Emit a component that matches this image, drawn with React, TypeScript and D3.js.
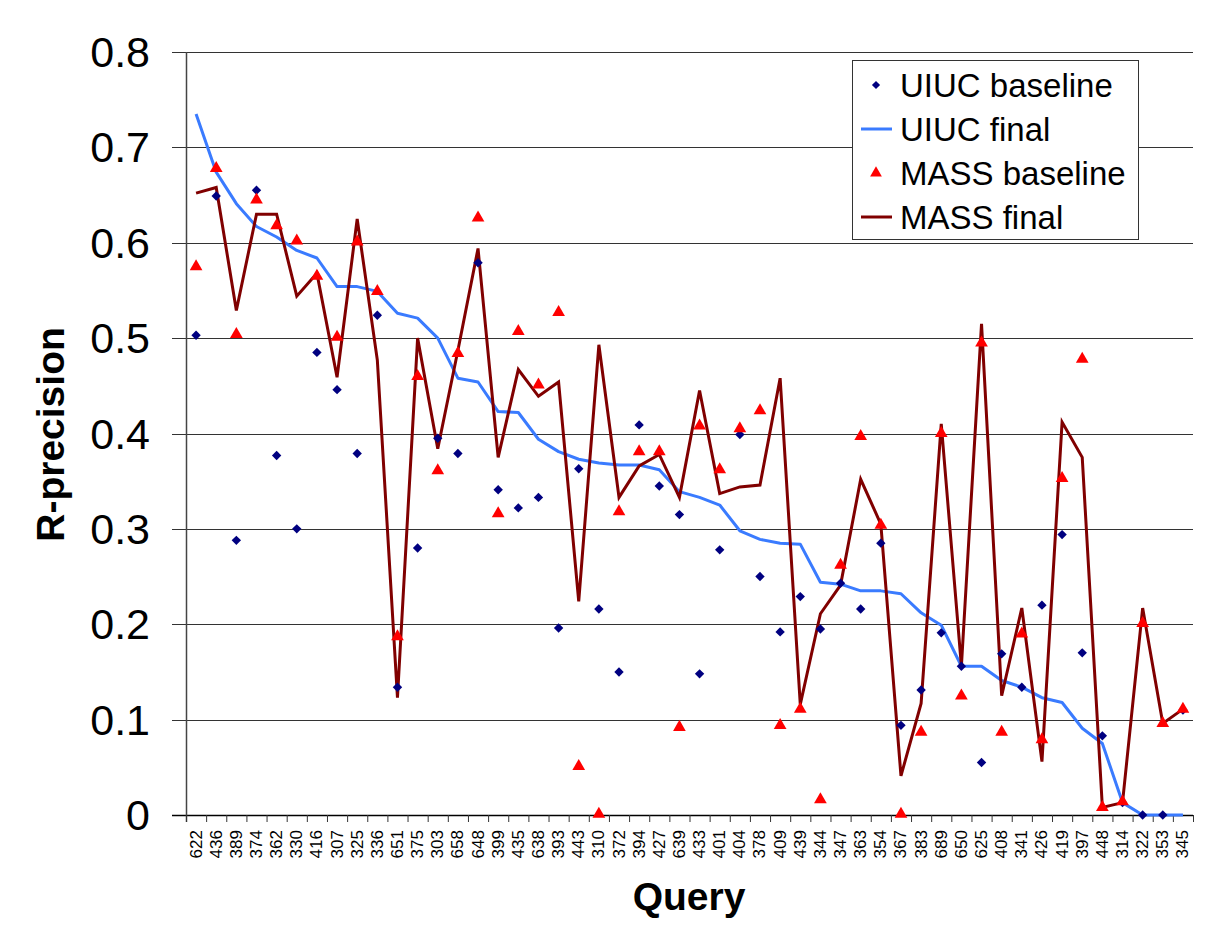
import React from "react";
import * as d3 from "d3";

const queries = ["622","436","389","374","362","330","416","307","325","336","651","375","303","658","648","399","435","638","393","443","310","372","394","427","639","433","401","404","378","409","439","344","347","363","354","367","383","689","650","625","408","341","426","419","397","448","314","322","353","345"];

const uiucBaseline = [0.503,0.649,0.288,0.655,0.377,0.300,0.485,0.446,0.379,0.524,0.134,0.280,0.395,0.379,0.579,0.341,0.322,0.333,0.196,0.363,0.216,0.150,0.409,0.345,0.315,0.148,0.278,0.399,0.250,0.192,0.229,0.195,0.243,0.216,0.285,0.094,0.131,0.191,0.156,0.055,0.169,0.134,0.220,0.294,0.170,0.083,0.013,0.0,0.0,0.110];

const uiucFinal = [0.735,0.674,0.641,0.617,0.606,0.592,0.584,0.554,0.554,0.549,0.526,0.521,0.500,0.458,0.454,0.423,0.422,0.394,0.381,0.373,0.369,0.367,0.367,0.362,0.339,0.333,0.325,0.298,0.289,0.285,0.284,0.244,0.242,0.235,0.235,0.232,0.212,0.199,0.156,0.156,0.141,0.134,0.123,0.118,0.091,0.075,0.013,0.0,0.0,0.0];

const massBaseline = [0.574,0.677,0.503,0.644,0.617,0.601,0.564,0.500,0.600,0.548,0.186,0.459,0.360,0.483,0.625,0.315,0.506,0.450,0.526,0.050,0.0,0.317,0.380,0.380,0.091,0.407,0.361,0.404,0.423,0.093,0.110,0.015,0.261,0.396,0.303,0.0,0.086,0.399,0.124,0.494,0.086,0.189,0.078,0.352,0.477,0.007,0.013,0.200,0.095,0.110];

const massFinal = [0.652,0.658,0.529,0.630,0.630,0.544,0.568,0.459,0.625,0.477,0.123,0.500,0.384,0.487,0.594,0.375,0.467,0.439,0.454,0.224,0.493,0.333,0.366,0.378,0.333,0.445,0.337,0.344,0.346,0.458,0.116,0.211,0.241,0.352,0.305,0.041,0.117,0.410,0.156,0.515,0.125,0.217,0.056,0.412,0.375,0.008,0.013,0.217,0.096,0.111];

const yTicks = [0, 0.1, 0.2, 0.3, 0.4, 0.5, 0.6, 0.7, 0.8];

const legendItems = [
  { label: "UIUC baseline", kind: "diamond" },
  { label: "UIUC final", kind: "blueline" },
  { label: "MASS baseline", kind: "triangle" },
  { label: "MASS final", kind: "redline" },
];

const W = 1225;
const H = 945;
const LEFT = 186;
const RIGHT = 1193;
const TOP = 52;
const BOTTOM = 815;

const NAVY = "#000080";
const BLUE = "#3A7BFF";
const RED = "#FF0000";
const DARKRED = "#800000";
const FONT = "Liberation Sans, Arial, Helvetica, sans-serif";

export default function App() {
  const x = d3.scaleBand<string>().domain(queries).range([LEFT, RIGHT]).padding(0);
  const y = d3.scaleLinear().domain([0, 0.8]).range([BOTTOM, TOP]);
  const cx = (q: string) => (x(q) as number) + x.bandwidth() / 2;

  const line = d3
    .line<number>()
    .x((_, i) => cx(queries[i]))
    .y((d) => y(d));

  const diamond = d3.symbol().type(d3.symbolSquare).size(44)();
  const triangle = d3.symbol().type(d3.symbolTriangle).size(70)();

  const boundaries = queries.map((q) => x(q) as number).concat([RIGHT]);

  const legendX = 852;
  const legendY = 60;
  const legendW = 286;
  const legendH = 179;
  const rowY = [85, 129, 173, 217];

  return (
    <svg
      width={W}
      height={H}
      style={{ position: "absolute", left: 0, top: 0, background: "#fff" }}
      fontFamily={FONT}
    >
      <rect x={0} y={0} width={W} height={H} fill="#fff" />
      {yTicks.map((t) => (
        <line
          key={"g" + t}
          x1={LEFT - 14}
          x2={RIGHT}
          y1={Math.round(y(t)) + 0.5}
          y2={Math.round(y(t)) + 0.5}
          stroke={t === 0 ? "#000" : "#333"}
          strokeWidth={t === 0 ? 1.5 : 1.2}
        />
      ))}
      <line x1={LEFT + 0.5} x2={LEFT + 0.5} y1={TOP} y2={BOTTOM + 7} stroke="#444" strokeWidth={1.5} />
      {boundaries.map((b, i) => (
        <line key={"xt" + i} x1={b + 0.5} x2={b + 0.5} y1={BOTTOM} y2={BOTTOM + 7} stroke="#333" strokeWidth={1} />
      ))}
      {yTicks.map((t) => (
        <text
          key={"yl" + t}
          x={150}
          y={y(t)}
          textAnchor="end"
          dominantBaseline="central"
          fontSize={43}
          fill="#000"
        >
          {t === 0 ? "0" : d3.format(".1f")(t)}
        </text>
      ))}
      {queries.map((q) => (
        <text
          key={"xl" + q}
          transform={`translate(${cx(q)},${BOTTOM + 15}) rotate(-90)`}
          textAnchor="end"
          dominantBaseline="central"
          fontSize={17}
          fill="#000"
        >
          {q}
        </text>
      ))}
      <text
        transform={`translate(50,${(TOP + BOTTOM) / 2 + 1}) rotate(-90)`}
        textAnchor="middle"
        dominantBaseline="central"
        fontSize={39}
        fontWeight="bold"
        fill="#000"
      >
        R-precision
      </text>
      <text x={689} y={910} textAnchor="middle" fontSize={39} fontWeight="bold" fill="#000">
        Query
      </text>

      <path d={line(uiucFinal) || ""} fill="none" stroke={BLUE} strokeWidth={3} strokeLinejoin="round" />
      <path d={line(massFinal) || ""} fill="none" stroke={DARKRED} strokeWidth={3} strokeLinejoin="miter" />

      {uiucBaseline.map((v, i) => (
        <path key={"ub" + i} d={diamond || ""} transform={`translate(${cx(queries[i])},${y(v)}) rotate(45)`} fill={NAVY} />
      ))}
      {massBaseline.map((v, i) => (
        <path key={"mb" + i} d={triangle || ""} transform={`translate(${cx(queries[i])},${y(v) - 1})`} fill={RED} />
      ))}

      <rect x={legendX + 0.5} y={legendY + 0.5} width={legendW} height={legendH} fill="#fff" stroke="#333" strokeWidth={1} />
      {legendItems.map((it, i) => (
        <g key={"lg" + i}>
          {it.kind === "diamond" && (
            <path d={d3.symbol().type(d3.symbolSquare).size(34)() || ""} transform={`translate(876,${rowY[i]}) rotate(45)`} fill={NAVY} />
          )}
          {it.kind === "triangle" && (
            <path d={d3.symbol().type(d3.symbolTriangle).size(60)() || ""} transform={`translate(876,${rowY[i]})`} fill={RED} />
          )}
          {it.kind === "blueline" && (
            <line x1={861} x2={892} y1={rowY[i]} y2={rowY[i]} stroke={BLUE} strokeWidth={3} />
          )}
          {it.kind === "redline" && (
            <line x1={861} x2={892} y1={rowY[i]} y2={rowY[i]} stroke={DARKRED} strokeWidth={3} />
          )}
          <text x={900} y={rowY[i]} dominantBaseline="central" fontSize={33} fill="#000">
            {it.label}
          </text>
        </g>
      ))}
    </svg>
  );
}
